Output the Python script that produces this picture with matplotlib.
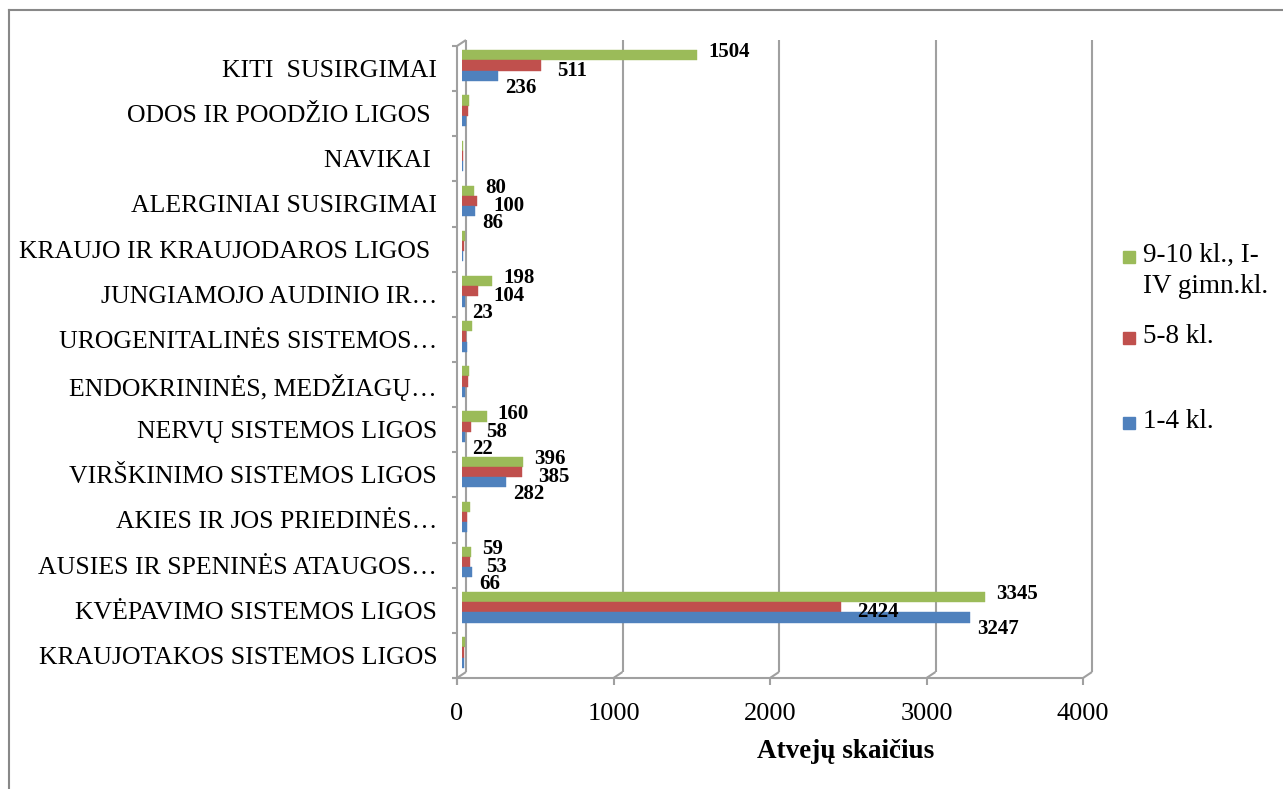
import numpy as np
import matplotlib
matplotlib.use("Agg")
import matplotlib.pyplot as plt
from matplotlib.lines import Line2D
from matplotlib.patches import Rectangle
from matplotlib.transforms import ScaledTranslation

# categories listed bottom -> top (as Excel draws them)
categories = [
    "KRAUJOTAKOS SISTEMOS LIGOS",
    "KVĖPAVIMO SISTEMOS LIGOS",
    "AUSIES IR SPENINĖS ATAUGOS…",
    "AKIES IR JOS PRIEDINĖS…",
    "VIRŠKINIMO SISTEMOS LIGOS",
    "NERVŲ SISTEMOS LIGOS",
    "ENDOKRININĖS, MEDŽIAGŲ…",
    "UROGENITALINĖS SISTEMOS…",
    "JUNGIAMOJO AUDINIO IR…",
    "KRAUJO IR KRAUJODAROS LIGOS ",
    "ALERGINIAI SUSIRGIMAI",
    "NAVIKAI ",
    "ODOS IR POODŽIO LIGOS ",
    "KITI  SUSIRGIMAI",
]
kl_1_4 = [15, 3247, 66, 35, 282, 22, 25, 35, 23, 12, 86, 10, 28, 236]
kl_5_8 = [15, 2424, 53, 35, 385, 58, 40, 30, 104, 15, 100, 12, 42, 511]
kl_9_10 = [20, 3345, 59, 55, 396, 160, 50, 65, 198, 25, 80, 12, 48, 1504]
# rows whose values carry a data label in the original
labelled = ["KVĖPAVIMO SISTEMOS LIGOS", "AUSIES IR SPENINĖS ATAUGOS…",
            "VIRŠKINIMO SISTEMOS LIGOS", "NERVŲ SISTEMOS LIGOS",
            "JUNGIAMOJO AUDINIO IR…", "ALERGINIAI SUSIRGIMAI", "KITI  SUSIRGIMAI"]
series_names = ["9-10 kl., I-\nIV gimn.kl.", "5-8 kl.", "1-4 kl."]
x_ticks = [0, 1000, 2000, 3000, 4000]

GREEN, RED, BLUE = "#9BBB59", "#C0504D", "#4F81BD"
GRID = "#A0A0A0"
FONT = "Liberation Serif"

W, H = 1283, 789
fig = plt.figure(figsize=(W / 100, H / 100), dpi=100)
ax = fig.add_axes([461.5 / W, 1 - 675 / H, 626 / W, 632 / H])
ax.set_xlim(0, 4000)
ax.set_ylim(-0.5, len(categories) - 0.5)
for s in ax.spines.values():
    s.set_visible(False)

px_x = 626 / 4000.0
px_y = 632 / len(categories)
dx = 4.5 / px_x  # depth offset (data units)
dy = 3 / px_y
top = len(categories) - 0.5
bot = -0.5
lkw = dict(color=GRID, lw=1.5, clip_on=False, zorder=1, solid_capstyle="butt")

# back wall gridlines + floor diagonals + ticks
for g in x_ticks:
    ax.plot([g + dx, g + dx], [bot + dy, top + dy], **lkw)
    ax.plot([g + dx, g - dx], [bot + dy, bot - dy], **lkw)
    ax.plot([g - dx, g - dx], [bot - dy, bot - dy - 7 / px_y], **lkw)
# front floor line
ax.plot([-dx - 5 / px_x, 4000 - dx], [bot - dy, bot - dy], **lkw)
# side wall front edge, top diagonal and category ticks
ax.plot([-dx, -dx], [top - dy, bot - dy - 7 / px_y], **lkw)
ax.plot([-dx, dx], [top - dy, top + dy], **lkw)
for b in np.arange(bot, top + 0.01, 1.0):
    ax.plot([-dx - 5 / px_x, -dx], [b - dy, b - dy], **lkw)

y = np.arange(len(categories))
h = 0.225
series = [(kl_9_10, GREEN, h, (11, -3)), (kl_5_8, RED, 0, (16, 5)), (kl_1_4, BLUE, -h, (7, 12))]
for vals, col, off, (ox, oy) in series:
    ax.barh(y + off, vals, height=h, color=col, edgecolor=col, lw=0.3, zorder=3)
    for i, v in enumerate(vals):
        if categories[i] in labelled:
            ax.annotate(str(v), xy=(v, y[i] + off), xytext=(ox, -oy),
                        textcoords="offset pixels", ha="left", va="center",
                        fontsize=15, fontweight="bold", family=FONT, zorder=5)

ax.set_yticks(y)
ax.set_yticklabels(categories, fontsize=18.5, family=FONT)
ax.set_xticks(x_ticks)
ax.set_xticklabels([str(t) for t in x_ticks], fontsize=19, family=FONT)
ax.tick_params(length=0)
ax.tick_params(axis="y", pad=17.5)
ax.tick_params(axis="x", pad=18)
shift_y = ScaledTranslation(0, -3 / 100, fig.dpi_scale_trans)
shift_x = ScaledTranslation(-4.5 / 100, -3 / 100, fig.dpi_scale_trans)
for lbl in ax.get_yticklabels():
    lbl.set_transform(lbl.get_transform() + shift_y)
for lbl in ax.get_xticklabels():
    lbl.set_transform(lbl.get_transform() + shift_x)

fig.text(846 / W, 1 - 752 / H, "Atvejų skaičius", ha="center", va="center",
         fontsize=19.5, fontweight="bold", family=FONT)

# legend, Excel style: marker next to first text line
leg = [(series_names[0], GREEN, 257), (series_names[1], RED, 338), (series_names[2], BLUE, 423)]
for name, col, yc in leg:
    fig.patches.append(Rectangle((1123 / W, 1 - (yc + 6) / H), 12 / W, 12 / H,
                                 transform=fig.transFigure, color=col))
    fig.text(1143 / W, 1 - (yc - 14) / H, name, ha="left", va="top",
             fontsize=19.5, family=FONT, linespacing=1.3)

# outer chart border (top and left edges visible)
fig.lines.append(Line2D([9 / W, 1], [1 - 9.5 / H, 1 - 9.5 / H], transform=fig.transFigure,
                        color="#888888", lw=1.5))
fig.lines.append(Line2D([9 / W, 9 / W], [0, 1 - 9.5 / H], transform=fig.transFigure,
                        color="#888888", lw=1.5))

fig.savefig("out.png", dpi=100)
